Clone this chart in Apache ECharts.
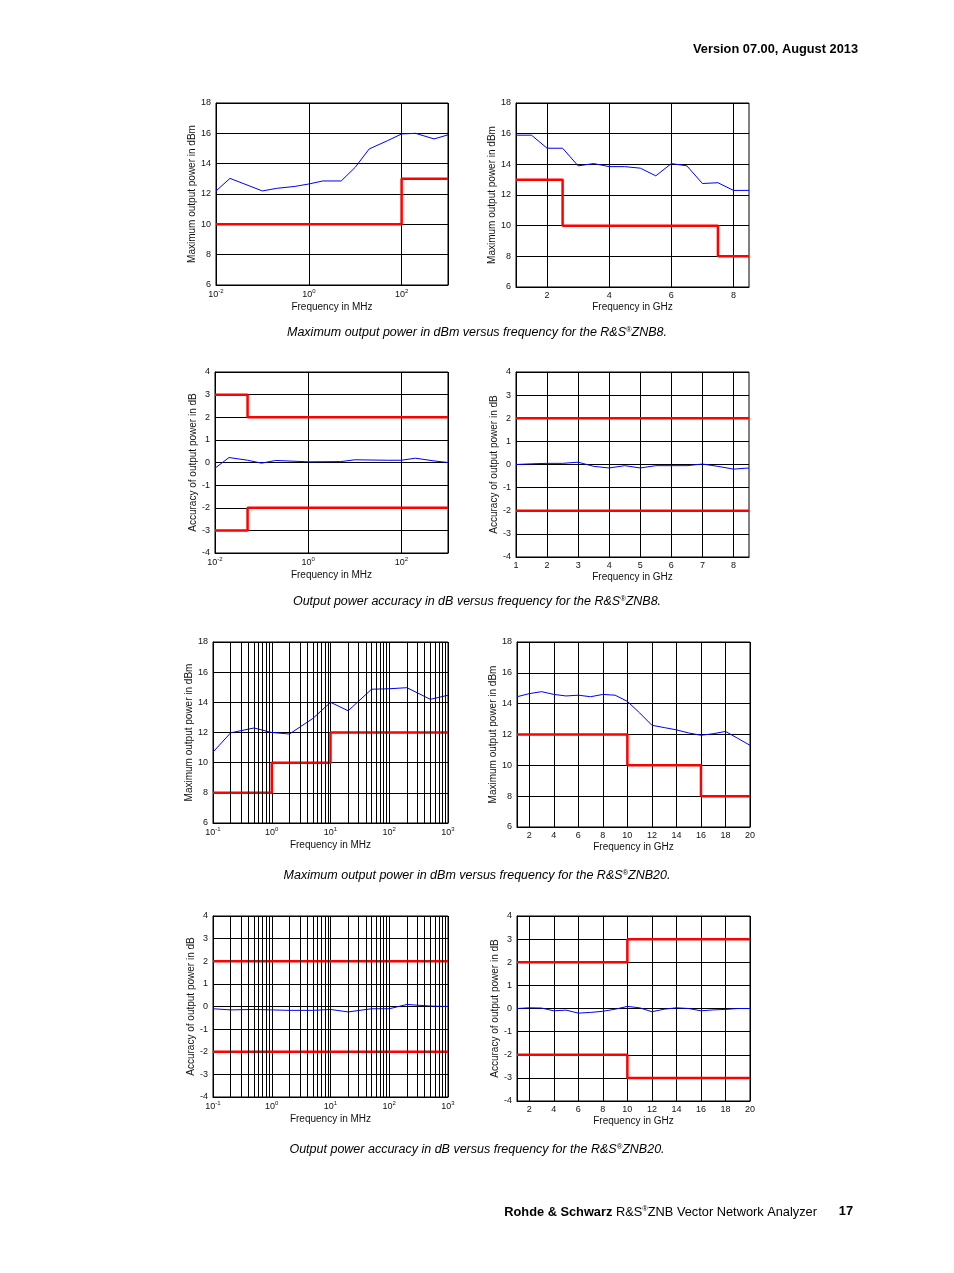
<!DOCTYPE html>
<html><head><meta charset="utf-8">
<script src="https://cdn.jsdelivr.net/npm/echarts@6.0.0/dist/echarts.min.js"></script>
<style>html,body{margin:0;padding:0;background:#fff}#c{width:954px;height:1273px}</style>
</head><body><div id="c"></div>
<script>
const FONT = '"Liberation Sans", Arial, Helvetica, sans-serif';

// ---- Chart 1: ZNB8 max output power, MHz range ----
const c1Freq = [0.01, 0.02, 0.1, 0.2, 0.5, 1, 2, 5, 10, 20, 50, 100, 200, 500, 1000];
const c1Power = [12.2, 13.03, 12.2, 12.37, 12.5, 12.66, 12.86, 12.86, 13.76, 14.97, 15.52, 15.96, 16.0, 15.63, 15.9];
const c1SpecFreq = [0.01, 100, 1000];
const c1Spec = [10, 13, 13];

// ---- Chart 2: ZNB8 max output power, GHz range ----
const c2Freq = [1, 1.5, 2, 2.5, 3, 3.5, 4, 4.5, 5, 5.5, 6, 6.5, 7, 7.5, 8, 8.5];
const c2Power = [15.9, 15.9, 15.05, 15.05, 13.9, 14.05, 13.85, 13.85, 13.75, 13.25, 14.05, 13.9, 12.75, 12.8, 12.3, 12.3];
const c2SpecFreq = [1, 2.5, 7.5, 8.5];
const c2Spec = [13, 10, 8, 8];
const c2Ticks = [2, 4, 6, 8];

// ---- Chart 3: ZNB8 accuracy, MHz range ----
const c3Freq = [0.01, 0.02, 0.05, 0.1, 0.2, 1, 5, 10, 50, 100, 200, 500, 1000];
const c3Acc = [-0.25, 0.22, 0.1, -0.03, 0.09, 0.03, 0.04, 0.12, 0.1, 0.1, 0.19, 0.07, 0];
const c3SpecFreq = [0.01, 0.05, 1000];
const c3Upper = [3, 2, 2];
const c3Lower = [-3, -2, -2];

// ---- Chart 4: ZNB8 accuracy, GHz range ----
const c4Freq = [1, 1.5, 2, 2.5, 3, 3.5, 4, 4.5, 5, 5.5, 6, 6.5, 7, 7.5, 8, 8.5];
const c4Acc = [0, 0.03, 0.05, 0.05, 0.1, -0.08, -0.15, -0.05, -0.15, -0.05, -0.05, -0.05, 0.02, -0.08, -0.2, -0.15];
const c4SpecFreq = [1, 8.5];
const c4Upper = [2, 2];
const c4Lower = [-2, -2];
const c4Ticks = [1, 2, 3, 4, 5, 6, 7, 8];

// ---- Chart 5: ZNB20 max output power, MHz range ----
const c5Freq = [0.1, 0.2, 0.5, 1, 2, 5, 10, 20, 50, 100, 200, 500, 1000];
const c5Power = [10.7, 11.98, 12.3, 12.0, 11.9, 12.93, 14.0, 13.44, 14.87, 14.9, 14.97, 14.2, 14.47];
const c5SpecFreq = [0.1, 1, 10, 1000];
const c5Spec = [8, 10, 12, 12];

// ---- Chart 6: ZNB20 max output power, GHz range ----
const c6Freq = [1, 2, 3, 4, 5, 6, 7, 8, 9, 10, 11, 12, 13, 14, 15, 16, 17, 18, 19, 20];
const c6Power = [14.45, 14.65, 14.78, 14.6, 14.5, 14.55, 14.45, 14.6, 14.55, 14.15, 13.4, 12.6, 12.45, 12.3, 12.1, 11.95, 12.05, 12.2, 11.75, 11.3];
const c6SpecFreq = [1, 10, 16, 20];
const c6Spec = [12, 10, 8, 8];
const c20Ticks = [2, 4, 6, 8, 10, 12, 14, 16, 18, 20];

// ---- Chart 7: ZNB20 accuracy, MHz range ----
const c7Freq = [0.1, 0.2, 0.5, 1, 2, 5, 10, 20, 50, 100, 200, 500, 1000];
const c7Acc = [-0.1, -0.15, -0.13, -0.15, -0.17, -0.17, -0.13, -0.24, -0.1, -0.1, 0.09, 0.02, 0];
const c7SpecFreq = [0.1, 1000];
const c7Upper = [2, 2];
const c7Lower = [-2, -2];

// ---- Chart 8: ZNB20 accuracy, GHz range ----
const c8Freq = [1, 2, 3, 4, 5, 6, 7, 8, 9, 10, 11, 12, 13, 14, 15, 16, 17, 18, 19, 20];
const c8Acc = [0, 0.03, 0.02, -0.1, -0.07, -0.2, -0.17, -0.12, -0.03, 0.09, 0.03, -0.14, -0.03, 0.03, 0, -0.1, -0.06, -0.04, 0, 0];
const c8SpecFreq = [1, 10, 20];
const c8Upper = [2, 3, 3];
const c8Lower = [-2, -3, -3];

// log-axis minor grid positions (ZNB20 MHz plots)
const logMinorMantissas = [2, 3, 4, 5, 6, 7, 8, 9];
const znb20Decades = [0.1, 1, 10, 100];

const captions = [
  'Maximum output power in dBm versus frequency for the R&S',
  'Output power accuracy in dB versus frequency for the R&S',
  'Maximum output power in dBm versus frequency for the R&S',
  'Output power accuracy in dB versus frequency for the R&S'
];
const captionModels = ['ZNB8.', 'ZNB8.', 'ZNB20.', 'ZNB20.'];

// ---------------- layout ----------------
const grids = [
  {left: 216, top: 103, width: 232, height: 182},
  {left: 516, top: 103, width: 233, height: 184},
  {left: 215, top: 372, width: 233, height: 181},
  {left: 516, top: 372, width: 233, height: 185},
  {left: 213, top: 642, width: 235, height: 181},
  {left: 517, top: 642, width: 233, height: 185},
  {left: 213, top: 916, width: 235, height: 181},
  {left: 517, top: 916, width: 233, height: 185}
];
const yNameGaps = [11.5, 15, 10.5, 9.5, 12, 12.5, 11, 10.5];
const captionY = [333, 602, 876, 1150];

const black = '#000';
const supRich = {
  b: {fontSize: 9, lineHeight: 13, fontFamily: FONT, color: '#111'},
  s: {fontSize: 6, lineHeight: 5, verticalAlign: 'top', fontFamily: FONT, color: '#111'}
};
const nameStyle = {fontSize: 10, fontFamily: FONT, color: '#111'};
const lineBlack = {color: black, width: 1};

function logX(idx, min, max, interval, labelExps) {
  return {
    type: 'log', logBase: 10, gridIndex: idx, min: min, max: max, interval: interval,
    name: 'Frequency in MHz', nameLocation: 'middle', nameGap: 17.5, nameTextStyle: nameStyle,
    axisLine: {show: true, onZero: false, lineStyle: lineBlack},
    axisTick: {show: false},
    splitLine: {show: true, lineStyle: lineBlack},
    minorTick: {show: false}, minorSplitLine: {show: false},
    axisLabel: {
      margin: 3, showMinLabel: true, showMaxLabel: true, hideOverlap: false,
      formatter: function (v) {
        const e = Math.round(Math.log10(v));
        return labelExps.indexOf(e) >= 0 ? '{b|10}{s|' + e + '}' : '';
      },
      rich: supRich
    }
  };
}
function linX(idx, min, max, ticks) {
  return {
    type: 'value', gridIndex: idx, min: min, max: max,
    name: 'Frequency in GHz', nameLocation: 'middle', nameGap: 15, nameTextStyle: nameStyle,
    axisLine: {show: true, onZero: false, lineStyle: lineBlack},
    axisTick: {show: true, inside: true, length: 2, customValues: ticks, lineStyle: lineBlack},
    splitLine: {show: true, lineStyle: lineBlack},
    axisLabel: {customValues: ticks, margin: 4, fontSize: 9, fontFamily: FONT, color: '#111', hideOverlap: false}
  };
}
function linY(idx, min, max, interval, name) {
  return {
    type: 'value', gridIndex: idx, min: min, max: max, interval: interval,
    name: name, nameLocation: 'middle', nameGap: yNameGaps[idx], nameRotate: 90, nameTextStyle: nameStyle,
    axisLine: {show: true, onZero: false, lineStyle: lineBlack},
    axisTick: {show: false},
    splitLine: {show: true, lineStyle: lineBlack},
    axisLabel: {margin: 5, fontSize: 9, fontFamily: FONT, color: '#111', showMinLabel: true, showMaxLabel: true, hideOverlap: false}
  };
}
function zip(xs, ys) { return xs.map(function (x, i) { return [x, ys[i]]; }); }
function blue(idx, xs, ys) {
  return {type: 'line', xAxisIndex: idx, yAxisIndex: idx, data: zip(xs, ys), symbol: 'none', showSymbol: false,
    silent: true, animation: false, z: 3, lineStyle: {color: '#0000ff', width: 1}, itemStyle: {color: '#0000ff'}};
}
function red(idx, xs, ys) {
  return {type: 'line', step: 'end', xAxisIndex: idx, yAxisIndex: idx, data: zip(xs, ys), symbol: 'none', showSymbol: false,
    silent: true, animation: false, z: 4, lineStyle: {color: '#ff0000', width: 2.5}, itemStyle: {color: '#ff0000'}};
}
function minorGrid(idx) {
  const pts = [];
  znb20Decades.forEach(function (d) {
    logMinorMantissas.forEach(function (m) { pts.push({xAxis: m * d}); });
  });
  return {type: 'line', xAxisIndex: idx, yAxisIndex: idx, data: [], symbol: 'none', silent: true, animation: false, z: 1,
    markLine: {silent: true, animation: false, symbol: ['none', 'none'], label: {show: false},
      lineStyle: {color: black, width: 1, type: 'solid'}, emphasis: {disabled: true}, data: pts}};
}

const pwrName = 'Maximum output power in dBm';
const accName = 'Accuracy of output power in dB';

const option = {
  backgroundColor: '#fff',
  animation: false,
  grid: grids.map(function (g) {
    return Object.assign({show: true, borderColor: black, borderWidth: 1, backgroundColor: 'transparent', containLabel: false, outerBoundsMode: 'none'}, g);
  }),
  xAxis: [
    logX(0, 0.01, 1000, 2, [-2, 0, 2]),
    linX(1, 1, 8.5, c2Ticks),
    logX(2, 0.01, 1000, 2, [-2, 0, 2]),
    linX(3, 1, 8.5, c4Ticks),
    logX(4, 0.1, 1000, 1, [-1, 0, 1, 2, 3]),
    linX(5, 1, 20, c20Ticks),
    logX(6, 0.1, 1000, 1, [-1, 0, 1, 2, 3]),
    linX(7, 1, 20, c20Ticks)
  ],
  yAxis: [
    linY(0, 6, 18, 2, pwrName),
    linY(1, 6, 18, 2, pwrName),
    linY(2, -4, 4, 1, accName),
    linY(3, -4, 4, 1, accName),
    linY(4, 6, 18, 2, pwrName),
    linY(5, 6, 18, 2, pwrName),
    linY(6, -4, 4, 1, accName),
    linY(7, -4, 4, 1, accName)
  ],
  series: [
    blue(0, c1Freq, c1Power), red(0, c1SpecFreq, c1Spec),
    blue(1, c2Freq, c2Power), red(1, c2SpecFreq, c2Spec),
    blue(2, c3Freq, c3Acc), red(2, c3SpecFreq, c3Upper), red(2, c3SpecFreq, c3Lower),
    blue(3, c4Freq, c4Acc), red(3, c4SpecFreq, c4Upper), red(3, c4SpecFreq, c4Lower),
    minorGrid(4), blue(4, c5Freq, c5Power), red(4, c5SpecFreq, c5Spec),
    blue(5, c6Freq, c6Power), red(5, c6SpecFreq, c6Spec),
    minorGrid(6), blue(6, c7Freq, c7Acc), red(6, c7SpecFreq, c7Upper), red(6, c7SpecFreq, c7Lower),
    blue(7, c8Freq, c8Acc), red(7, c8SpecFreq, c8Upper), red(7, c8SpecFreq, c8Lower)
  ],
  graphic: []
};

const capRich = {
  n: {fontSize: 12.5, lineHeight: 14, fontStyle: 'italic', fontFamily: FONT, fill: '#000'},
  s: {fontSize: 7.5, lineHeight: 6, verticalAlign: 'top', fontStyle: 'italic', fontFamily: FONT, fill: '#000'}
};
captions.forEach(function (c, i) {
  option.graphic.push({type: 'text', left: 'center', top: captionY[i] - 7, silent: true,
    style: {text: '{n|' + c + '}{s|®}{n|' + captionModels[i] + '}', rich: capRich, fill: '#000'}});
});
option.graphic.push({type: 'text', right: 96, top: 43, silent: true,
  style: {text: 'Version 07.00, August 2013', fontSize: 12.8, fontWeight: 'bold', fontFamily: FONT, fill: '#000'}});
option.graphic.push({type: 'text', right: 137, top: 1205, silent: true,
  style: {text: '{b|Rohde & Schwarz }{n|R&S}{s|®}{n|ZNB Vector Network Analyzer}', fill: '#000',
    rich: {
      b: {fontSize: 12.8, lineHeight: 14, fontWeight: 'bold', fontFamily: FONT, fill: '#000'},
      n: {fontSize: 12.8, lineHeight: 14, fontFamily: FONT, fill: '#000'},
      s: {fontSize: 7.5, lineHeight: 6, verticalAlign: 'top', fontFamily: FONT, fill: '#000'}
    }}});
option.graphic.push({type: 'text', right: 101, top: 1205, silent: true,
  style: {text: '17', fontSize: 12.8, fontWeight: 'bold', fontFamily: FONT, fill: '#000'}});

const chart = echarts.init(document.getElementById('c'), null, {renderer: 'canvas'});
chart.setOption(option);
</script>
</body></html>
